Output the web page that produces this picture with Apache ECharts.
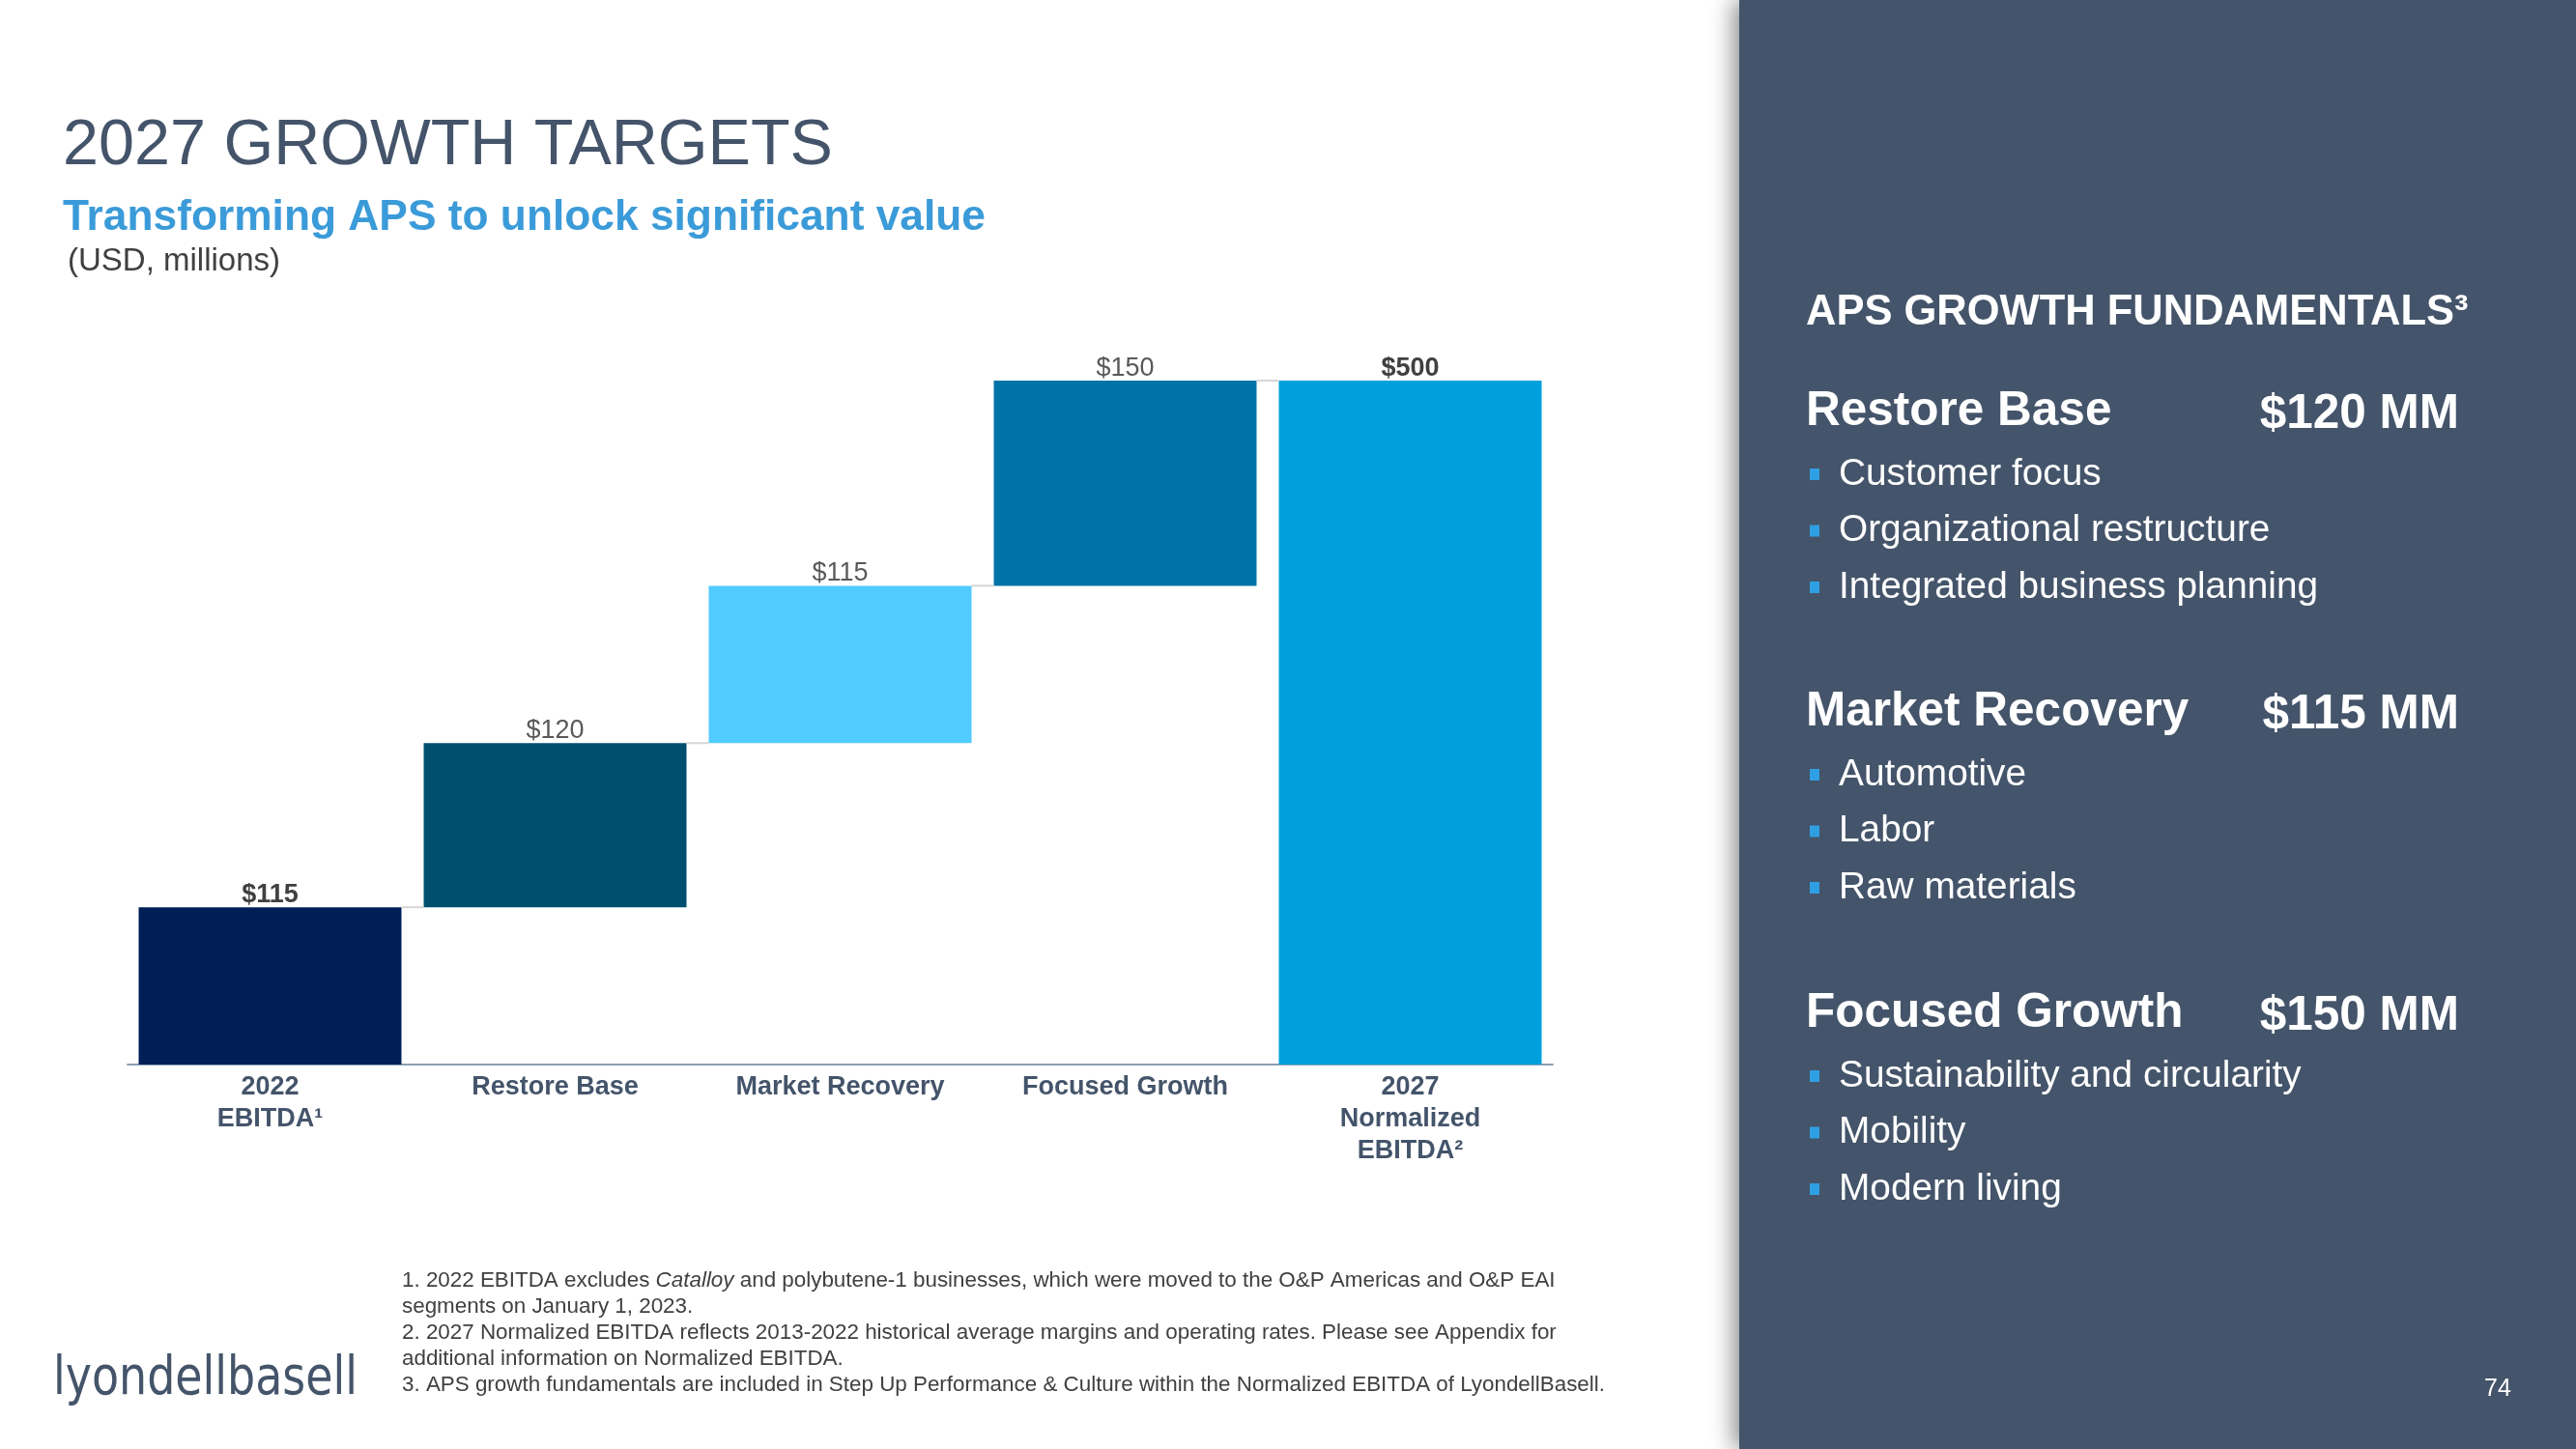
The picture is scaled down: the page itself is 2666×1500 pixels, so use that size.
<!DOCTYPE html>
<html>
<head>
<meta charset="utf-8">
<style>
html,body{margin:0;padding:0;background:#fff;}
#c{width:2666px;height:1500px;}
</style>
<script src="https://cdn.jsdelivr.net/npm/echarts@6/dist/echarts.min.js"></script>
</head>
<body>
<div id="c"></div>
<script>
// ---- data ----
const categories = ['2022\nEBITDA¹', 'Restore Base', 'Market Recovery', 'Focused Growth', '2027\nNormalized\nEBITDA²'];
const barValues = [115, 120, 115, 150, 500];
const isTotal = [true, false, false, false, true];
const barColors = ['#001f57', '#004f6f', '#52cbff', '#0073a6', '#00a0dc'];

const panelSections = [
  { name: 'Restore Base', amount: '$120 MM', items: ['Customer focus', 'Organizational restructure', 'Integrated business planning'] },
  { name: 'Market Recovery', amount: '$115 MM', items: ['Automotive', 'Labor', 'Raw materials'] },
  { name: 'Focused Growth', amount: '$150 MM', items: ['Sustainability and circularity', 'Mobility', 'Modern living'] }
];
const footnotes = [
  '1. 2022 EBITDA excludes {i|Catalloy} and polybutene-1 businesses, which were moved to the O&P Americas and O&P EAI',
  'segments on January 1, 2023.',
  '2. 2027 Normalized EBITDA reflects 2013-2022 historical average margins and operating rates. Please see Appendix for',
  'additional information on Normalized EBITDA.',
  '3. APS growth fundamentals are included in Step Up Performance & Culture within the Normalized EBITDA of LyondellBasell.'
];

// ---- derived waterfall bases ----
const bases = [];
let run = 0;
barValues.forEach((v, i) => {
  if (isTotal[i]) { bases.push(0); run = v; }
  else { bases.push(run); run += v; }
});
const tops = barValues.map((v, i) => bases[i] + v);
const connectors = [];
for (let i = 0; i < barValues.length - 1; i++) connectors.push([i, tops[i]]);

const FONT = '"Liberation Sans", Arial, Helvetica, sans-serif';
const SLATE = '#44546a';
const BAR_FRAC = 0.922;

const chart = echarts.init(document.getElementById('c'), null, { renderer: 'canvas' });

const graphics = [];
// right panel
graphics.push({
  type: 'rect', left: 1800, top: 0, z: 1,
  shape: { width: 866, height: 1500 },
  style: { fill: SLATE, shadowBlur: 22, shadowColor: 'rgba(0,0,0,0.45)', shadowOffsetX: -6 }
});
// title etc.
graphics.push({ type: 'text', x: 65, y: 152, z: 5, style: { text: '2027 GROWTH TARGETS', font: '66.5px ' + FONT, fill: SLATE, verticalAlign: 'middle' } });
graphics.push({ type: 'text', x: 65, y: 226, z: 5, style: { text: 'Transforming APS to unlock significant value', font: 'bold 44.3px ' + FONT, fill: '#3b9bd9', verticalAlign: 'middle' } });
graphics.push({ type: 'text', x: 70, y: 271, z: 5, style: { text: '(USD, millions)', font: '33px ' + FONT, fill: '#404040', verticalAlign: 'middle' } });

// panel heading
graphics.push({ type: 'text', x: 1869, y: 324, z: 5, style: { text: 'APS GROWTH FUNDAMENTALS³', font: 'bold 43.5px ' + FONT, fill: '#ffffff', verticalAlign: 'middle' } });

const headY = [426, 737, 1049];
panelSections.forEach((s, k) => {
  const hy = headY[k];
  graphics.push({ type: 'text', x: 1869, y: hy, z: 5, style: { text: s.name, font: 'bold 49.5px ' + FONT, fill: '#ffffff', verticalAlign: 'middle' } });
  graphics.push({ type: 'text', x: 2545, y: hy + 3, z: 5, style: { text: s.amount, font: 'bold 49.5px ' + FONT, fill: '#ffffff', verticalAlign: 'middle', align: 'right' } });
  s.items.forEach((t, j) => {
    const y = hy + 65 + j * 58.5;
    graphics.push({ type: 'rect', x: 1873, y: y - 6, z: 5, shape: { width: 10, height: 12 }, style: { fill: '#2f9fe3' } });
    graphics.push({ type: 'text', x: 1903, y: y, z: 5, style: { text: t, font: '38.8px ' + FONT, fill: '#ffffff', verticalAlign: 'middle' } });
  });
});

// page number
graphics.push({ type: 'text', x: 2585, y: 1438, z: 5, style: { text: '74', font: '25px ' + FONT, fill: '#ffffff', verticalAlign: 'middle', align: 'center' } });

// footnotes
footnotes.forEach((t, j) => {
  graphics.push({
    type: 'text', x: 416, y: 1326 + j * 27, z: 5,
    style: {
      text: t, font: '22.4px ' + FONT, fill: '#404040', verticalAlign: 'middle',
      rich: { i: { fontStyle: 'italic', fontSize: 22.4, fontFamily: FONT, fill: '#404040' } }
    }
  });
});

// logo
graphics.push({
  type: 'text', x: 55, y: 1429, z: 5, scaleX: 0.835, originX: 0, originY: 0,
  style: { text: 'lyondellbasell', font: '55px "DejaVu Sans", sans-serif', fill: SLATE, verticalAlign: 'middle' }
});

const option = {
  backgroundColor: '#ffffff',
  animation: false,
  grid: { left: 132, top: 394, width: 1475, height: 708, containLabel: false },
  xAxis: {
    type: 'category',
    data: categories,
    axisLine: { lineStyle: { color: '#8da0b5', width: 2 } },
    axisTick: { show: false },
    axisLabel: {
      interval: 0, margin: 7, color: SLATE, fontFamily: FONT, fontWeight: 'bold', fontSize: 27, lineHeight: 33
    }
  },
  yAxis: {
    type: 'value', min: 0, max: 500, show: false, splitLine: { show: false }
  },
  series: [
    {
      name: 'base', type: 'bar', stack: 'w', barWidth: (BAR_FRAC * 100) + '%',
      itemStyle: { color: 'transparent' },
      data: bases, silent: true
    },
    {
      name: 'value', type: 'bar', stack: 'w', barWidth: (BAR_FRAC * 100) + '%',
      data: barValues.map((v, i) => ({ value: v, itemStyle: { color: barColors[i] } })),
      label: {
        show: true, position: 'top', distance: -1,
        formatter: p => (isTotal[p.dataIndex] ? '{b|$' + p.value + '}' : '{n|$' + p.value + '}'),
        rich: {
          b: { fontFamily: FONT, fontSize: 27, fontWeight: 'bold', color: '#404040' },
          n: { fontFamily: FONT, fontSize: 27, color: '#595959' }
        }
      }
    },
    {
      name: 'connectors', type: 'custom', z: 3, silent: true,
      data: connectors,
      renderItem: (params, api) => {
        const i = api.value(0), v = api.value(1);
        const p = api.coord([i, v]);
        const band = api.size([1, 0])[0];
        const bw = band * BAR_FRAC;
        return {
          type: 'line',
          shape: { x1: p[0] + bw / 2, y1: p[1], x2: p[0] + band - bw / 2, y2: p[1] },
          style: { stroke: '#d6d6d6', lineWidth: 2 }
        };
      }
    }
  ],
  graphic: graphics
};
chart.setOption(option);
</script>
</body>
</html>
